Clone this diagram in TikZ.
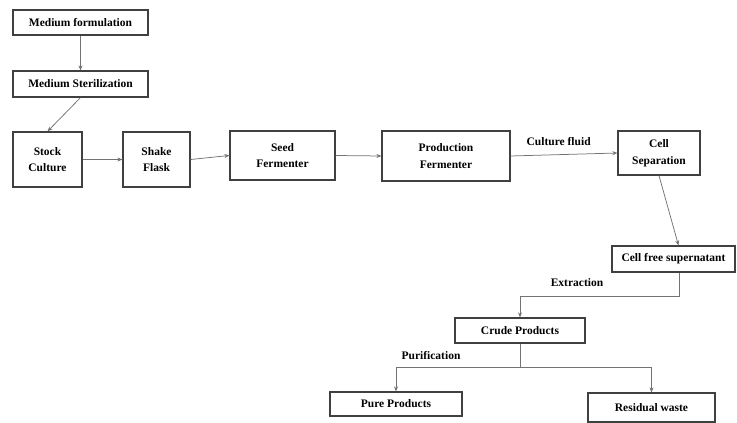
\documentclass[tikz,border=0pt]{standalone}
\usepackage{fontspec}
\setmainfont{Liberation Serif}
\usetikzlibrary{arrows.meta}
\begin{document}
\begin{tikzpicture}[x=1pt,y=-1pt,
    box/.style={draw=black!75,line width=1.2pt,fill=white,align=center,inner sep=0pt,
      font=\bfseries\fontsize{11.5}{16.5}\selectfont},
    flow/.style={draw=black!55,line width=0.75pt,-{Stealth[length=5pt,width=4pt]}},
    lbl/.style={font=\bfseries\fontsize{11.5}{13}\selectfont}]
  \useasboundingbox (0,0) rectangle (737,423);
  % process chain
  \node[box,minimum width=135,minimum height=25] (medform) at (80.5,22.5) {Medium formulation};
  \node[box,minimum width=135,minimum height=26] (medster) at (80.5,84) {Medium Sterilization};
  \node[box,minimum width=69,minimum height=55] (stock) at (47.5,159.5) {Stock\\Culture};
  \node[box,minimum width=67,minimum height=55] (shake) at (156.5,159.5) {Shake\\Flask};
  \node[box,minimum width=105,minimum height=49] (seed) at (282.5,155.5) {Seed\\Fermenter};
  \node[box,minimum width=128,minimum height=50] (prod) at (446,156) {Production\\Fermenter};
  \node[box,minimum width=82,minimum height=44] (cellsep) at (659,153) {Cell\\Separation};
  \node[box,minimum width=123,minimum height=26] (cellfree) at (673.5,259) {Cell free supernatant};
  \node[box,minimum width=130,minimum height=25] (crude) at (520,330.5) {Crude Products};
  \node[box,minimum width=132,minimum height=24] (pure) at (396,404) {Pure Products};
  \node[box,minimum width=127,minimum height=29] (waste) at (651.5,407.5) {Residual waste};
  % connectors
  \draw[flow] (medform.south) -- (medster.north);
  \draw[flow] (medster.south) -- (stock.north);
  \draw[flow] (stock.east) -- (shake.west);
  \draw[flow] (shake.east) -- (seed.west);
  \draw[flow] (seed.east) -- (prod.west);
  \draw[flow] (prod.east) -- (cellsep.west) node[lbl,pos=0.45,above=5pt] {Culture fluid};
  \draw[flow] (cellsep.south) -- ([xshift=5pt]cellfree.north);
  \draw[flow] ([xshift=6pt]cellfree.south) -- ++(0,24) -| (crude.north);
  \node[lbl] (extr) at (577,283) {Extraction};
  \draw[draw=black!55,line width=0.75pt] (crude.south) -- ++(0,24) coordinate (split);
  \draw[flow] (split) -| (pure.north);
  \draw[flow] (split) -| (waste.north);
  \node[lbl] (purif) at (431,356) {Purification};
\end{tikzpicture}
\end{document}
